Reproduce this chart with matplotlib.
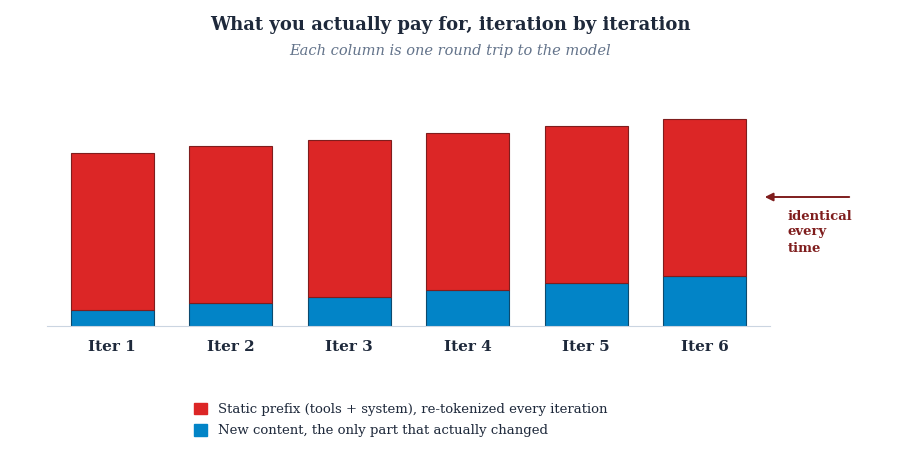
import matplotlib
matplotlib.use("Agg")
import matplotlib.pyplot as plt
from matplotlib.patches import Patch

categories = ["Iter 1", "Iter 2", "Iter 3", "Iter 4", "Iter 5", "Iter 6"]
new_content = [10, 14.6, 18.5, 23, 27.4, 31.8]
static_prefix = [100, 100, 100, 100, 100, 100]
labels = ["Static prefix (tools + system), re-tokenized every iteration",
          "New content, the only part that actually changed"]

RED = "#dc2626"; BLUE = "#0284c7"; DARK = "#1e293b"; ANN = "#7f1d1d"
plt.rcParams['font.family'] = ['DejaVu Serif']

fig = plt.figure(figsize=(9, 4.5), dpi=100)
ax = fig.add_axes([47/900, 1-326/450, (770-47)/900, 226/450])
x = range(len(categories))
ax.bar(x, new_content, width=0.7, color=BLUE, edgecolor="#0c4a6e", linewidth=0.8)
ax.bar(x, static_prefix, bottom=new_content, width=0.7, color=RED, edgecolor="#7f1d1d", linewidth=0.8)
ax.set_xlim(-0.55, 5.55)
ax.set_ylim(0, 144)
ax.set_xticks(list(x))
ax.set_xticklabels(categories, fontsize=11, fontweight="bold", color=DARK)
ax.tick_params(axis="x", length=0, pad=10)
ax.set_yticks([])
for s in ["top", "right", "left"]:
    ax.spines[s].set_visible(False)
ax.spines["bottom"].set_color("#cbd5e1")

fig.text(0.5, 1-25/450, "What you actually pay for, iteration by iteration",
         ha="center", va="center", fontsize=13, fontweight="bold", color=DARK)
fig.text(0.5, 1-51/450, "Each column is one round trip to the model",
         ha="center", va="center", fontsize=10.5, style="italic", color="#64748b")

fig.patches.append(matplotlib.patches.FancyArrowPatch(
    (852/900, 1-197/450), (762/900, 1-197/450), transform=fig.transFigure,
    arrowstyle="-|>", mutation_scale=12, color=ANN, lw=1.4))
fig.text(788/900, 1-232/450, "identical\nevery\ntime", ha="left", va="center",
         fontsize=9.5, fontweight="bold", color=ANN, linespacing=1.3)

handles = [Patch(facecolor=RED, edgecolor=RED), Patch(facecolor=BLUE, edgecolor=BLUE)]
fig.legend(handles, labels, loc="center left", bbox_to_anchor=(182/900, 1-420/450),
           frameon=False, fontsize=9.5, handlelength=1.0, handleheight=1.0,
           labelspacing=0.6, labelcolor=DARK)
fig.savefig("out.png", dpi=100, facecolor="white")
